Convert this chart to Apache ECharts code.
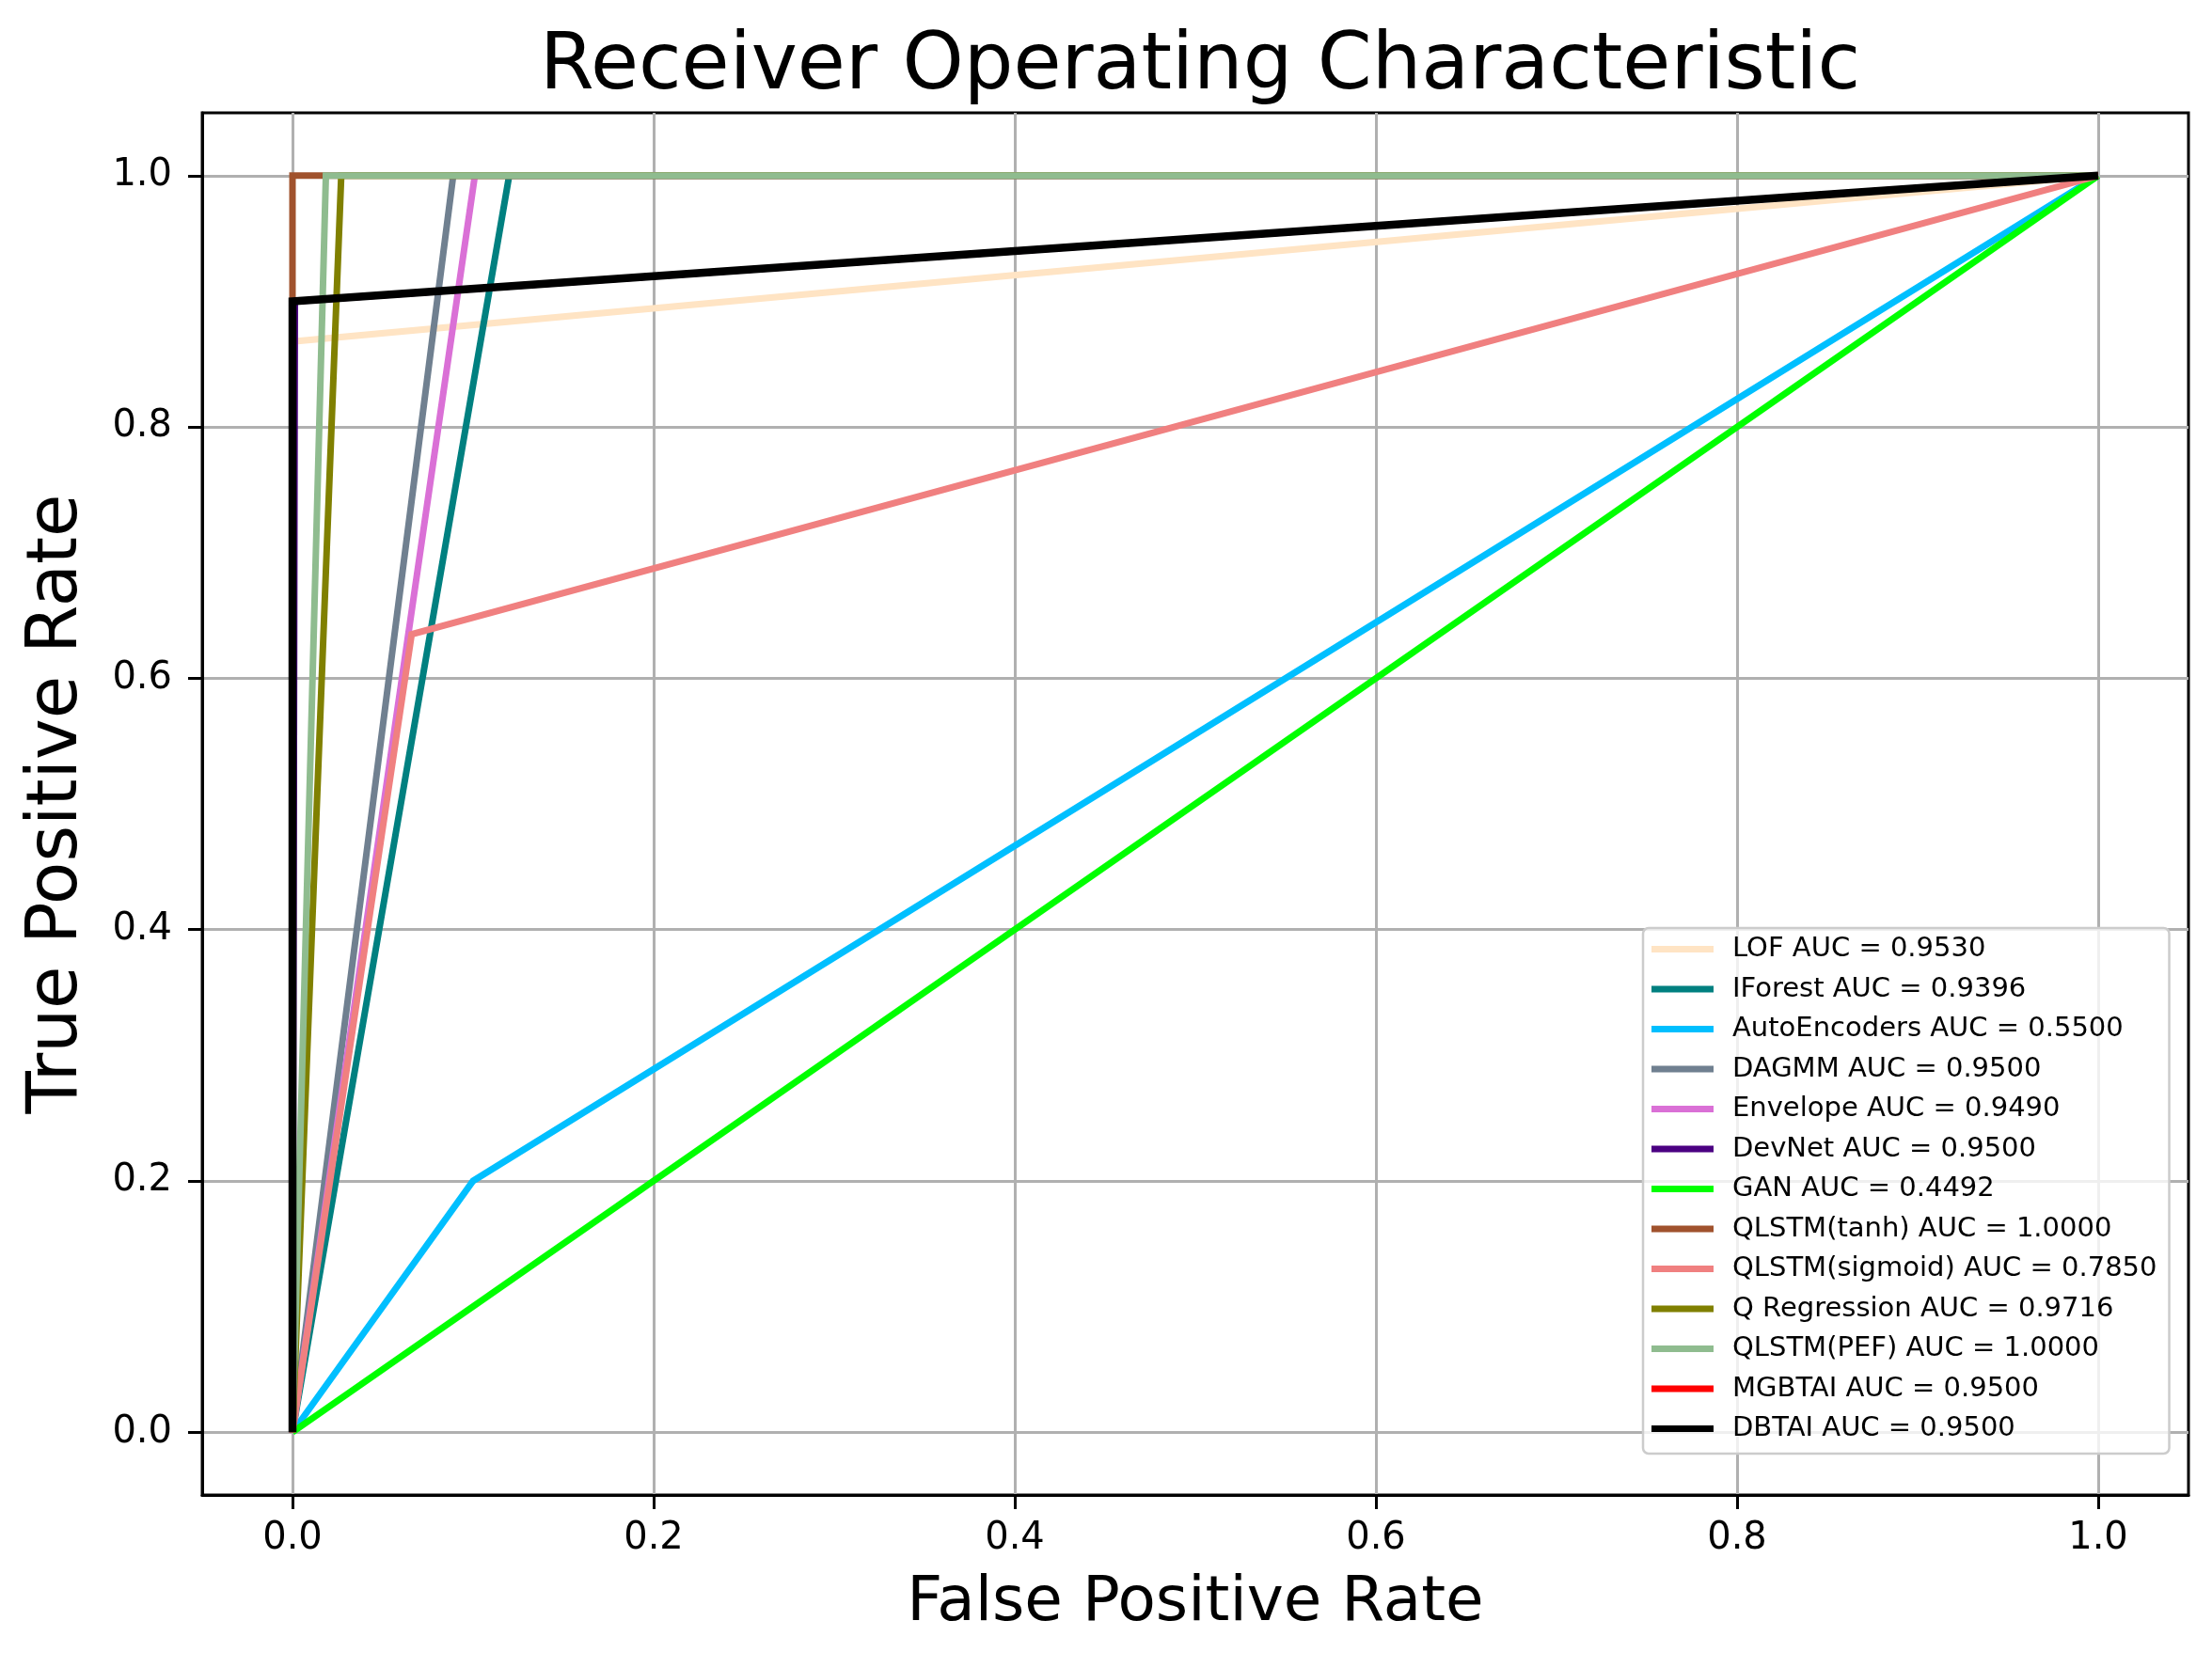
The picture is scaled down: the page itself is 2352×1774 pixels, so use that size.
<!DOCTYPE html>
<html>
<head>
<meta charset="utf-8">
<script src="https://cdn.jsdelivr.net/npm/echarts@6/dist/echarts.min.js"></script>
<style>
  html, body { margin: 0; padding: 0; background: #fff; }
  #roc { width: 2352px; height: 1774px; }
</style>
</head>
<body>
<div id="roc"></div>
<script>
"use strict";

// Datos de las curvas ROC (FPR / TPR por modelo)
const lofFpr = [0, 0, 1];
const lofTpr = [0, 0.868, 1];
const iforestFpr = [0, 0.12, 1];
const iforestTpr = [0, 1, 1];
const autoEncFpr = [0, 0.1, 1];
const autoEncTpr = [0, 0.2, 1];
const dagmmFpr = [0, 0.089, 1];
const dagmmTpr = [0, 1, 1];
const envelopeFpr = [0, 0.101, 1];
const envelopeTpr = [0, 1, 1];
const devnetFpr = [0, 0.0013, 1];
const devnetTpr = [0, 0.9, 1];
const ganFpr = [0, 1];
const ganTpr = [0, 1];
const tanhFpr = [0, 0, 1];
const tanhTpr = [0, 1, 1];
const sigmoidFpr = [0, 0.066, 1];
const sigmoidTpr = [0, 0.635, 1];
const qregFpr = [0, 0.027, 1];
const qregTpr = [0, 1, 1];
const pefFpr = [0, 0.0185, 1];
const pefTpr = [0, 1, 1];
const mgbtaiFpr = [0, 0, 1];
const mgbtaiTpr = [0, 0.9, 1];
const dbtaiFpr = [0, 0, 1];
const dbtaiTpr = [0, 0.9, 1];

// Nombres y AUC de la leyenda
const modelNames = [
    'LOF', 'IForest', 'AutoEncoders', 'DAGMM', 'Envelope', 'DevNet', 'GAN',
    'QLSTM(tanh)', 'QLSTM(sigmoid)', 'Q Regression', 'QLSTM(PEF)', 'MGBTAI', 'DBTAI'
];
const aucValues = [
    '0.9530', '0.9396', '0.5500', '0.9500', '0.9490', '0.9500', '0.4492',
    '1.0000', '0.7850', '0.9716', '1.0000', '0.9500', '0.9500'
];

// Marcas de los ejes
const tickValues = [0, 0.2, 0.4, 0.6, 0.8, 1.0];

const curves = [
    [lofFpr, lofTpr], [iforestFpr, iforestTpr], [autoEncFpr, autoEncTpr],
    [dagmmFpr, dagmmTpr], [envelopeFpr, envelopeTpr], [devnetFpr, devnetTpr],
    [ganFpr, ganTpr], [tanhFpr, tanhTpr], [sigmoidFpr, sigmoidTpr],
    [qregFpr, qregTpr], [pefFpr, pefTpr], [mgbtaiFpr, mgbtaiTpr], [dbtaiFpr, dbtaiTpr]
];

const lineColors = [
    '#FFE4C4', '#008080', '#00BFFF', '#708090', '#DA70D6', '#4B0082', '#00FF00',
    '#A0522D', '#F08080', '#808000', '#8FBC8F', '#FF0000', '#000000'
];

const FONT = '"DejaVu Sans", sans-serif';

var chart = echarts.init(document.getElementById('roc'), null, { renderer: 'canvas' });

var series = curves.map(function (c, i) {
    var label = modelNames[i] + ' AUC = ' + aucValues[i];
    return {
        name: label,
        type: 'line',
        data: c[0].map(function (x, k) { return [x, c[1][k]]; }),
        showSymbol: false,
        symbol: 'none',
        color: lineColors[i],
        lineStyle: { width: i === curves.length - 1 ? 8.5 : 7, color: lineColors[i], cap: 'butt', join: 'miter' },
        z: 2 + i,
        silent: true
    };
});

var axisCommon = {
    type: 'value',
    min: -0.05,
    max: 1.05,
    axisLine: { show: true, onZero: false, lineStyle: { color: '#000', width: 3 } },
    axisTick: {
        show: true, inside: false, length: 15,
        customValues: tickValues,
        lineStyle: { color: '#000', width: 3 }
    },
    axisLabel: {
        customValues: tickValues,
        formatter: function (v) { return v.toFixed(1); },
        fontFamily: FONT, fontSize: 40, color: '#000', lineHeight: 40
    },
    splitLine: { show: true, lineStyle: { color: '#b0b0b0', width: 3 } },
    nameLocation: 'middle'
};

var option = {
    animation: false,
    backgroundColor: '#ffffff',
    title: {
        text: 'Receiver Operating Characteristic',
        left: 1271,
        textAlign: 'center',
        top: 26,
        textStyle: { fontFamily: FONT, fontSize: 83, fontWeight: 'normal', color: '#000', lineHeight: 83 }
    },
    grid: {
        left: 215, right: 25, top: 120, bottom: 184,
        show: true, borderColor: '#000', borderWidth: 3, backgroundColor: 'transparent'
    },
    xAxis: Object.assign({}, axisCommon, {
        name: 'False Positive Rate',
        nameGap: 83,
        nameTextStyle: { fontFamily: FONT, fontSize: 66, color: '#000', lineHeight: 66 },
        axisLabel: Object.assign({}, axisCommon.axisLabel, { margin: 27 })
    }),
    yAxis: Object.assign({}, axisCommon, {
        name: 'True Positive Rate',
        nameGap: 116,
        nameRotate: 90,
        nameTextStyle: { fontFamily: FONT, fontSize: 74, color: '#000', lineHeight: 74 },
        axisLabel: Object.assign({}, axisCommon.axisLabel, { margin: 32 })
    }),
    legend: {
        orient: 'vertical',
        left: 1747,
        top: 987,
        icon: 'rect',
        itemWidth: 66,
        itemHeight: 7,
        itemGap: 13.5,
        padding: [8, 13, 12, 9],
        backgroundColor: 'rgba(255,255,255,0.8)',
        borderColor: '#cccccc',
        borderWidth: 2.5,
        borderRadius: 6,
        selectedMode: false,
        textStyle: { fontFamily: FONT, fontSize: 29, color: '#000', lineHeight: 29, padding: [0, 0, 0, 15] },
        data: series.map(function (s) { return s.name; })
    },
    series: series
};

chart.setOption(option);
</script>
</body>
</html>
